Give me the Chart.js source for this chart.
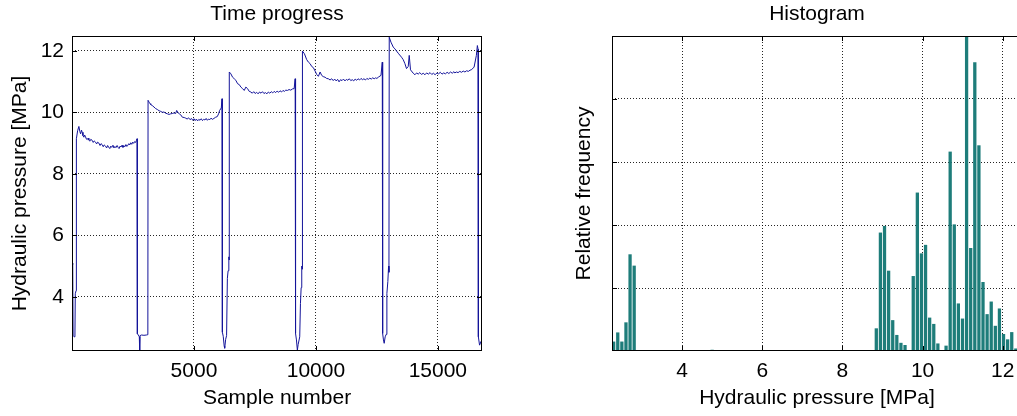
<!DOCTYPE html>
<html>
<head>
<meta charset="utf-8">
<script src="https://cdn.jsdelivr.net/npm/chart.js@4.4.0/dist/chart.umd.min.js"></script>
<style>
  html, body { margin: 0; padding: 0; background: #fff; overflow: hidden; width: 1017px; height: 416px; }
  #grafico-tiempo { position: absolute; left: 0; top: 0; }
  #grafico-histograma { position: absolute; left: 500px; top: 0; }
</style>
</head>
<body>
<canvas id="grafico-tiempo" width="500" height="416"></canvas>
<canvas id="grafico-histograma" width="540" height="416"></canvas>
<script>

// serie temporal: numero de muestra y presion [MPa]
const sampleNo = [
  0, 30, 45, 90, 120, 135, 165, 180,
  230, 282, 320, 352, 390, 417, 450, 487, 520, 556, 590, 622, 660, 691, 730, 770, 826, 870, 910, 966,
  1010, 1050, 1101, 1150, 1190, 1236, 1280, 1320, 1375, 1420, 1460, 1500, 1550, 1590, 1630, 1680, 1720,
  1760, 1800, 1850, 1890, 1930, 1970, 2010, 2050, 2090, 2130, 2170, 2210, 2250, 2290, 2330, 2370, 2410,
  2450, 2490, 2530, 2570, 2610, 2640, 2668, 2680,
  2720, 2760, 2775, 2790, 2850, 2950, 3050, 3110, 3118,
  3159, 3200, 3228, 3290, 3363, 3430, 3502, 3570, 3638, 3700, 3772, 3840, 3912, 3980, 4047, 4110, 4182,
  4250, 4292, 4345, 4400, 4456, 4525, 4600, 4660, 4720, 4780, 4840, 4900, 4950, 5000, 5050, 5100, 5150,
  5200, 5250, 5300, 5350, 5400, 5450, 5500, 5550, 5600, 5650, 5700, 5753, 5818, 5890, 5957, 6010, 6052,
  6121, 6150, 6162, 6170,
  6200, 6240, 6260, 6300, 6338, 6370, 6400, 6430, 6445, 6449,
  6514, 6584, 6653, 6718, 6788, 6858, 6923, 6993, 7062, 7128, 7197, 7267, 7332, 7390, 7450, 7510, 7570,
  7630, 7690, 7750, 7810, 7870, 7930, 7990, 8050, 8110, 8170, 8230, 8290, 8350, 8410, 8470, 8530, 8590,
  8650, 8710, 8764, 8834, 8900, 8970, 9040, 9108, 9149, 9161, 9170,
  9202, 9240, 9272, 9337, 9366, 9395, 9420, 9440, 9448,
  9530, 9624, 9693, 9763, 9828, 9898, 9967, 10033, 10102, 10172, 10237, 10300, 10376, 10440, 10511,
  10580, 10646, 10710, 10770, 10830, 10890, 10950, 11010, 11070, 11130, 11190, 11250, 11310, 11370,
  11430, 11490, 11550, 11610, 11670, 11730, 11790, 11850, 11910, 11970, 12030, 12090, 12150, 12210,
  12270, 12330, 12390, 12450, 12500, 12557, 12668, 12721, 12733, 12740,
  12770, 12800, 12840, 12880, 12910, 12950, 12980, 12995, 13007,
  13077, 13171, 13240, 13375, 13511, 13580, 13650, 13715, 13785, 13826, 13879, 13990, 14060, 14130,
  14194, 14260, 14330, 14400, 14470, 14540, 14610, 14680, 14750, 14820, 14890, 14960, 15030, 15100,
  15170, 15240, 15310, 15380, 15450, 15520, 15590, 15660, 15696, 15760, 15830, 15900, 15970, 16040,
  16110, 16180, 16250, 16320, 16375, 16486, 16579, 16620, 16649, 16661,
  16710, 16771, 16812
];
const pressure = [
  5.10, 5.05, 2.75, 2.70, 2.72, 4.10, 4.20, 9.14,
  9.40, 9.54, 9.38, 9.30, 9.42, 9.35, 9.24, 9.19, 9.26, 9.20, 9.13, 9.11, 9.16, 9.10, 9.06, 9.12, 9.09, 9.02, 9.07, 9.03,
  8.97, 9.03, 9.00, 8.92, 8.98, 8.95, 8.88, 8.94, 8.90, 8.84, 8.92, 8.87, 8.82, 8.90, 8.86, 8.93, 8.84,
  8.89, 8.85, 8.92, 8.86, 8.82, 8.90, 8.87, 8.93, 8.86, 8.91, 8.88, 8.95, 8.89, 8.93, 8.98, 8.94, 9.01,
  8.96, 9.03, 8.99, 9.05, 9.02, 9.08, 9.14, 2.80,
  2.76, 2.70, 2.24, 2.74, 2.76, 2.75, 2.76, 2.77, 10.39,
  10.33, 10.28, 10.25, 10.22, 10.17, 10.12, 10.09, 10.05, 10.03, 10.00, 10.01, 9.97, 9.95, 9.93, 9.95, 9.96, 9.98,
  9.96, 10.06, 9.99, 9.95, 9.92, 9.84, 9.83, 9.81, 9.78, 9.82, 9.76, 9.80, 9.74, 9.79, 9.73, 9.78, 9.72,
  9.77, 9.74, 9.79, 9.73, 9.77, 9.75, 9.80, 9.74, 9.78, 9.76, 9.81, 9.77, 9.80, 9.84, 9.86, 9.95, 10.06,
  10.14, 10.44, 10.40, 2.85,
  2.72, 2.40, 2.33, 2.62, 2.74, 4.60, 4.85, 5.30, 5.20, 11.31,
  11.25, 11.14, 11.09, 11.04, 10.93, 10.90, 10.82, 10.77, 10.71, 10.82, 10.77, 10.68, 10.66, 10.62, 10.67, 10.61, 10.65,
  10.60, 10.66, 10.62, 10.67, 10.61, 10.64, 10.60, 10.66, 10.62, 10.67, 10.63, 10.68, 10.64, 10.69, 10.65, 10.70, 10.66,
  10.71, 10.68, 10.72, 10.71, 10.74, 10.72, 10.76, 10.77, 11.09, 11.00, 2.81,
  2.60, 2.27, 2.45, 2.70, 3.78, 4.30, 5.00, 4.90, 11.99,
  11.90, 11.71, 11.63, 11.58, 11.49, 11.45, 11.34, 11.23, 11.17, 11.31, 11.20, 11.16, 11.14, 11.10, 11.09,
  11.05, 11.09, 11.03, 11.08, 11.02, 11.07, 10.99, 11.06, 11.03, 11.08, 11.02, 11.07, 11.04, 11.09,
  11.03, 11.06, 11.02, 11.08, 11.04, 11.09, 11.05, 11.10, 11.06, 11.09, 11.05, 11.10, 11.07, 11.11,
  11.08, 11.12, 11.09, 11.12, 11.10, 11.14, 11.20, 11.63, 11.50, 2.81,
  2.60, 2.49, 2.70, 2.78, 4.11, 4.50, 5.00, 4.80, 12.44,
  12.28, 12.12, 12.06, 11.92, 11.79, 11.71, 11.58, 11.42, 11.49, 11.85, 11.38, 11.27, 11.22, 11.28,
  11.24, 11.29, 11.23, 11.27, 11.22, 11.28, 11.24, 11.29, 11.23, 11.27, 11.22, 11.28, 11.25, 11.30,
  11.24, 11.28, 11.25, 11.30, 11.26, 11.31, 11.27, 11.32, 11.28, 11.31, 11.29, 11.33, 11.30, 11.34,
  11.31, 11.35, 11.33, 11.37, 11.38, 11.47, 11.85, 12.17, 12.05, 2.70,
  2.43, 2.55, 2.45
];
const ticksMuestra = [5000, 10000, 15000];
const ticksPresion = [4, 6, 8, 10, 12];

// histograma: 100 clases entre el minimo y el maximo de la presion
const binStart = 2.24;
const binWidth = 0.1024;
const frecuencia = [
  0.030, 0.059, 0.030, 0.091, 0.307, 0.271, 0.003, 0, 0, 0,
  0, 0, 0, 0, 0, 0, 0, 0, 0.003, 0,
  0, 0, 0, 0, 0.004, 0.003, 0, 0, 0, 0,
  0, 0, 0, 0, 0, 0, 0, 0, 0, 0,
  0, 0, 0, 0, 0, 0, 0, 0, 0, 0,
  0, 0, 0, 0, 0, 0, 0, 0, 0, 0,
  0, 0, 0, 0, 0.072, 0.376, 0.397, 0.255, 0.098, 0.051,
  0.026, 0.019, 0.003, 0.238, 0.503, 0.310, 0.337, 0.106, 0.086, 0.024,
  0.003, 0.017, 0.633, 0.402, 0.151, 0.103, 1.000, 0.327, 0.917, 0.653,
  0.219, 0.117, 0.157, 0.080, 0.135, 0.054, 0.037, 0.060, 0.008, 0.005
];
const ticksHistX = [4, 6, 8, 10, 12];
const ticksHistY = [0.2, 0.4, 0.6, 0.8];

Chart.defaults.font.family = '"Liberation Sans", Arial, Helvetica, sans-serif';
Chart.defaults.font.size = 21;
Chart.defaults.color = '#000';

// marco completo con marcas de graduacion hacia dentro
const cajaEjes = {
  id: 'cajaEjes',
  afterDraw(chart) {
    const { ctx, chartArea: a, scales } = chart;
    const largo = 5;
    ctx.save();
    ctx.strokeStyle = '#000';
    ctx.lineWidth = 1;
    ctx.strokeRect(a.left + 0.5, a.top + 0.5, a.right - a.left - 1, a.bottom - a.top - 1);
    ctx.beginPath();
    scales.x.ticks.forEach(t => {
      let px = Math.round(scales.x.getPixelForValue(t.value)) + 0.5;
      ctx.moveTo(px, a.bottom); ctx.lineTo(px, a.bottom - largo);
      ctx.moveTo(px, a.top); ctx.lineTo(px, a.top + largo);
    });
    scales.y.ticks.forEach(t => {
      let py = Math.round(scales.y.getPixelForValue(t.value)) + 0.5;
      ctx.moveTo(a.left, py); ctx.lineTo(a.left + largo, py);
      ctx.moveTo(a.right, py); ctx.lineTo(a.right - largo, py);
    });
    ctx.stroke();
    ctx.restore();
  }
};

function opcionesTitulo(texto) {
  return {
    display: true, text: texto, fullSize: false, color: '#000',
    font: { size: 21, weight: 'normal', lineHeight: 1.2 },
    padding: { top: 1.4, bottom: 9.4 }
  };
}

function rejilla() {
  return { color: 'rgba(0,0,0,0.85)', drawTicks: false, lineWidth: 1 };
}

let puntos = sampleNo.map((s, i) => ({ x: s, y: pressure[i] }));

let graficoTiempo = new Chart(document.getElementById('grafico-tiempo'), {
  type: 'line',
  data: {
    datasets: [{
      data: puntos,
      borderColor: '#14149a',
      borderWidth: 1,
      pointRadius: 0,
      tension: 0,
      fill: false
    }]
  },
  options: {
    responsive: false,
    animation: false,
    devicePixelRatio: 1,
    layout: { padding: { left: 0, right: 18, top: 0, bottom: 0 } },
    plugins: {
      legend: { display: false },
      tooltip: { enabled: false },
      title: opcionesTitulo('Time progress')
    },
    scales: {
      x: {
        type: 'linear', min: 0, max: 16810,
        afterBuildTicks: s => { s.ticks = ticksMuestra.map(v => ({ value: v })); },
        afterFit: s => { s.height = 65; },
        ticks: { padding: 8, maxRotation: 0, callback: v => String(v) },
        grid: rejilla(),
        border: { display: false, dash: [1, 2] },
        title: { display: true, text: 'Sample number', font: { size: 21, lineHeight: 1.2 }, padding: { top: 0, bottom: 5 } }
      },
      y: {
        type: 'linear', min: 2.24, max: 12.48,
        afterBuildTicks: s => { s.ticks = ticksPresion.map(v => ({ value: v })); },
        afterFit: s => { s.width = 72; },
        ticks: { padding: 8, callback: v => String(v) },
        grid: rejilla(),
        border: { display: false, dash: [1, 2] },
        title: { display: true, text: 'Hydraulic pressure [MPa]', font: { size: 21, lineHeight: 1.2 }, padding: { top: 8, bottom: 0 } }
      }
    }
  },
  plugins: [cajaEjes]
});

let datosHist = frecuencia.map((f, i) => ({ x: binStart + (i + 0.5) * binWidth, y: f }));

let graficoHistograma = new Chart(document.getElementById('grafico-histograma'), {
  type: 'bar',
  data: {
    datasets: [{
      data: datosHist,
      backgroundColor: '#1e7d7a',
      borderWidth: 0,
      barPercentage: 1,
      categoryPercentage: 0.8
    }]
  },
  options: {
    responsive: false,
    animation: false,
    devicePixelRatio: 1,
    layout: { padding: { left: 0, right: 18, top: 0, bottom: 0 } },
    plugins: {
      legend: { display: false },
      tooltip: { enabled: false },
      title: opcionesTitulo('Histogram')
    },
    scales: {
      x: {
        type: 'linear', min: 2.25, max: 12.48, offset: false,
        afterBuildTicks: s => { s.ticks = ticksHistX.map(v => ({ value: v })); },
        afterFit: s => { s.height = 65; },
        ticks: { padding: 8, maxRotation: 0, callback: v => String(v) },
        grid: Object.assign(rejilla(), { offset: false }),
        border: { display: false, dash: [1, 2] },
        title: { display: true, text: 'Hydraulic pressure [MPa]', font: { size: 21, lineHeight: 1.2 }, padding: { top: 0, bottom: 5 } }
      },
      y: {
        type: 'linear', min: 0, max: 1,
        afterBuildTicks: s => { s.ticks = ticksHistY.map(v => ({ value: v })); },
        afterFit: s => { s.width = 112; },
        ticks: { display: false },
        grid: rejilla(),
        border: { display: false, dash: [1, 2] },
        title: { display: true, text: 'Relative frequency', font: { size: 21, lineHeight: 1.2 }, padding: { top: 72, bottom: 0 } }
      }
    }
  },
  plugins: [cajaEjes]
});
</script>
</body>
</html>
